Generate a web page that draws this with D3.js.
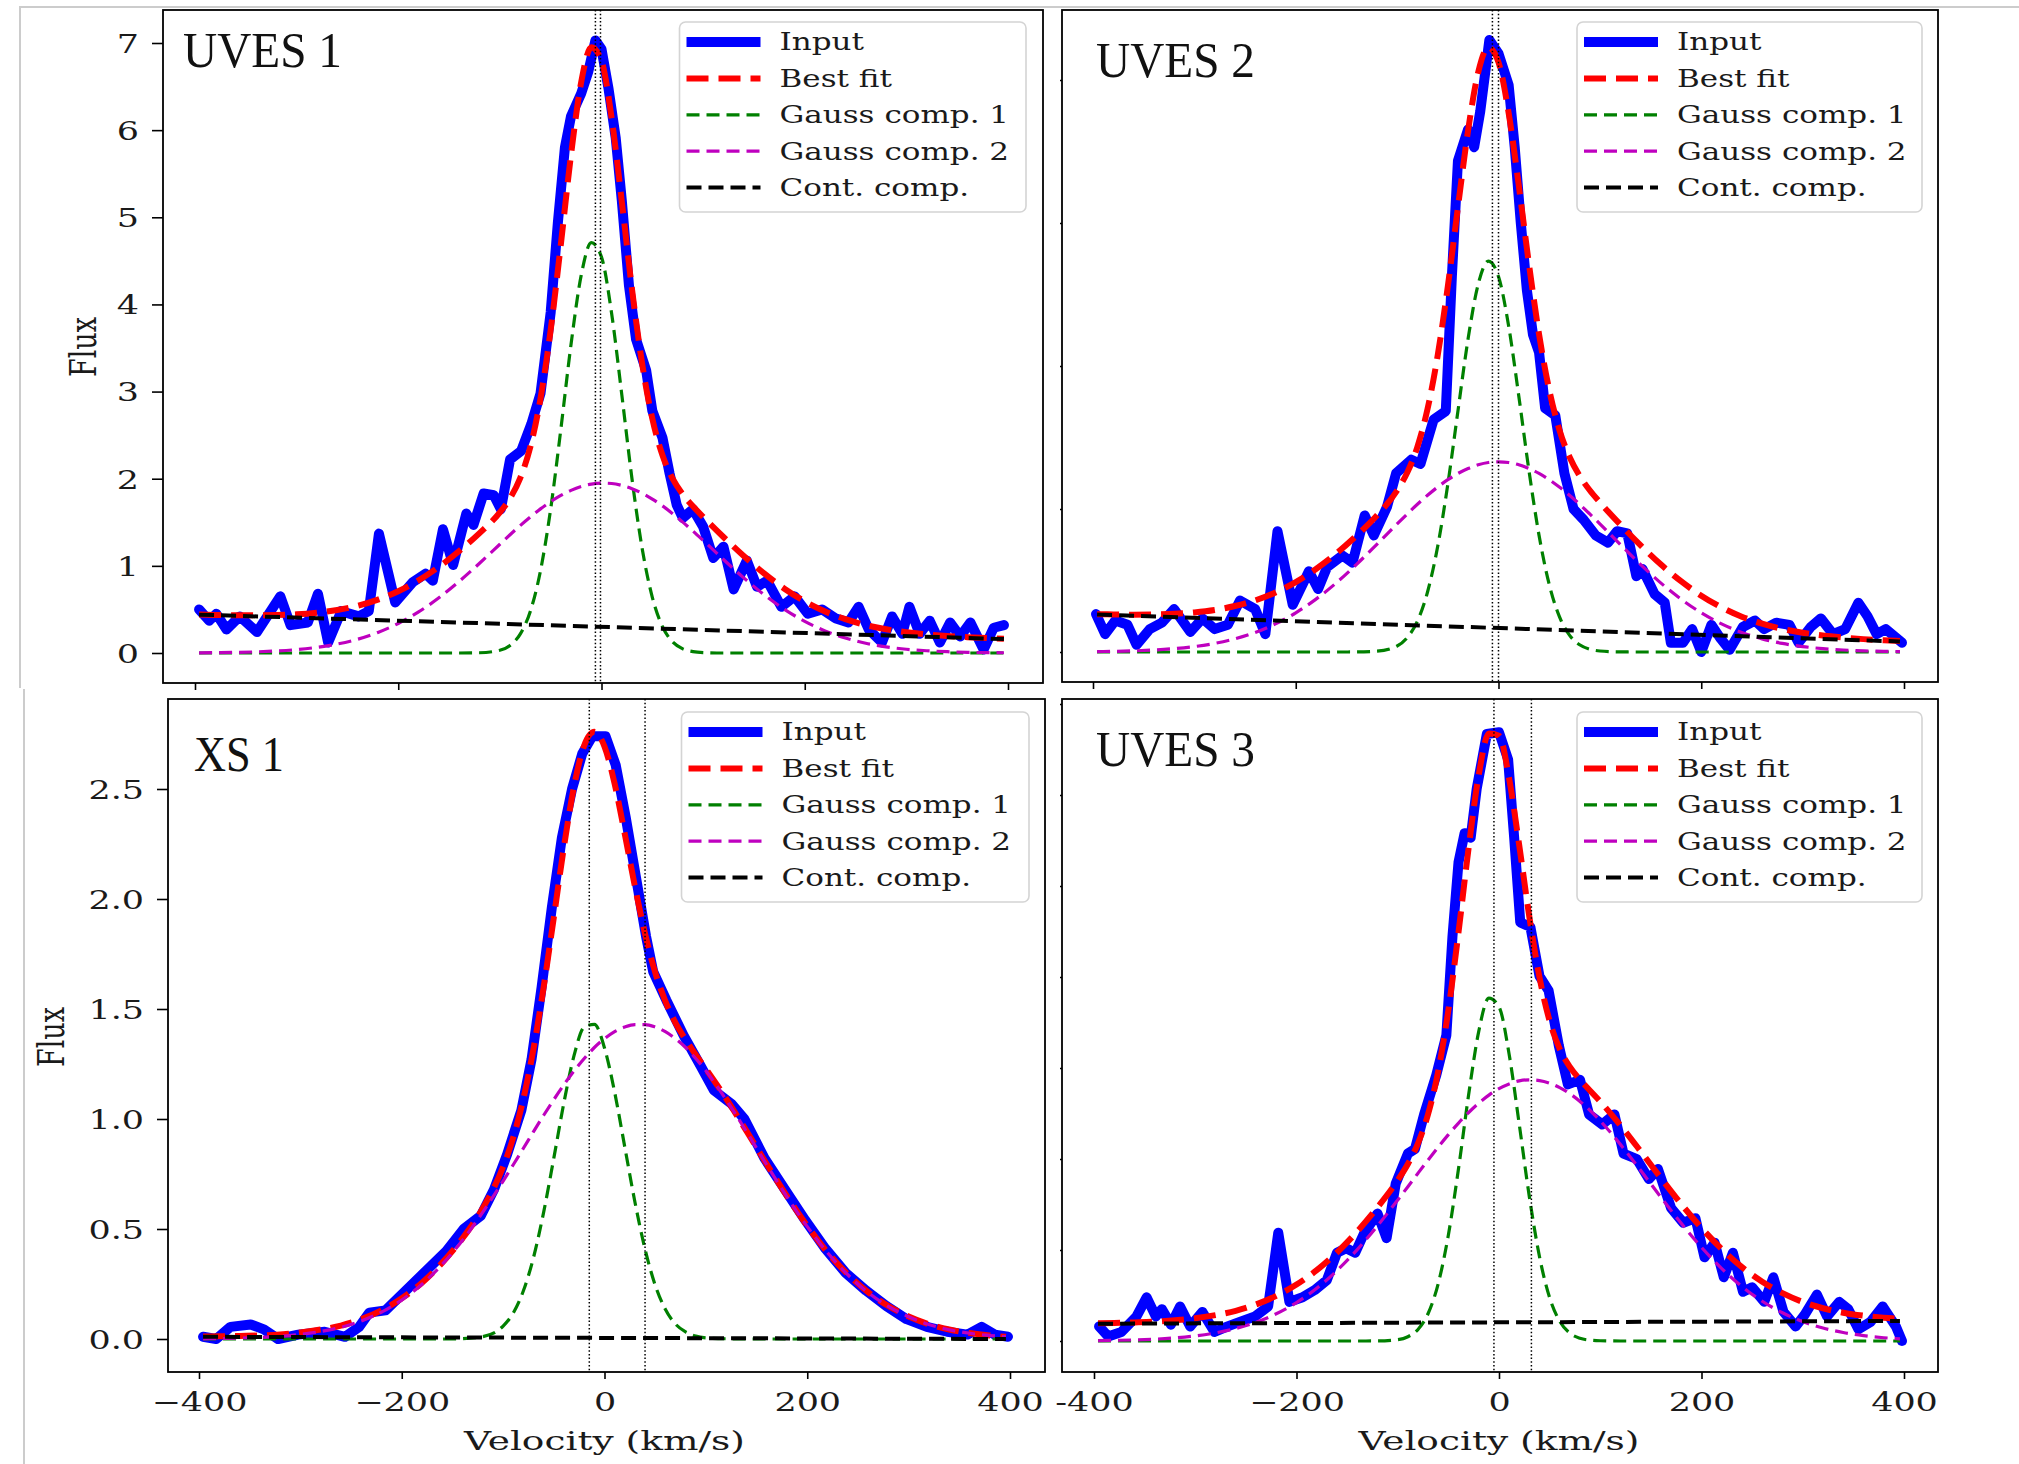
<!DOCTYPE html>
<html>
<head>
<meta charset="utf-8">
<script src="https://cdn.jsdelivr.net/npm/d3@7"></script>
<style>
  html, body { margin: 0; padding: 0; background: #ffffff; }
  svg { display: block; }
</style>
</head>
<body>
<svg id="fig" width="2019" height="1464"></svg>
<script>
// ---------- shared axes values ----------
const velocityGrid = [-396,-380,-360,-340,-320,-300,-280,-260,-240,-220,-200,-180,-160,-140,-120,-100,
  -90,-80,-70,-60,-50,-40,-30,-20,-10,0,10,20,30,40,50,60,70,80,90,
  100,120,140,160,180,200,220,240,260,280,300,320,340,360,380,396];
const contVelocity = [-396, 396];
const velocityTicks = [-400, -200, 0, 200, 400];
const xsVelocityLabels = ["\u2212400", "\u2212200", "0", "200", "400"];
const uves3VelocityLabels = ["-400", "\u2212200", "0", "200", "400"];
const uves1FluxTicks = [0, 1, 2, 3, 4, 5, 6, 7];
const uves2FluxTicks = [0, 2, 4, 6, 8];
const xs1FluxTicks = [0, 0.5, 1, 1.5, 2, 2.5];
const uves3FluxTicks = [0, 1, 2, 3, 4, 5, 6, 7];
const legendLabels = ["Input", "Best fit", "Gauss comp. 1", "Gauss comp. 2", "Cont. comp."];
const panelTitles = ["UVES 1", "UVES 2", "XS 1", "UVES 3"];

// ---------- UVES 1 ----------
const uves1Input = [[-396,0.50],[-386,0.37],[-379,0.45],[-369,0.27],[-356,0.42],[-339,0.24],[-316,0.65],[-306,0.32],
  [-289,0.35],[-279,0.68],[-269,0.12],[-256,0.48],[-239,0.42],[-229,0.48],[-219,1.37],[-203,0.58],[-186,0.81],
  [-173,0.91],[-166,0.83],[-156,1.42],[-146,1.01],[-133,1.60],[-126,1.47],[-116,1.83],[-106,1.81],[-99,1.65],
  [-90,2.22],[-79,2.32],[-69,2.63],[-60,2.98],[-50,3.91],[-43,4.93],[-36,5.80],[-30,6.16],[-20,6.42],[-13,6.67],
  [-6,7.03],[0,6.93],[7,6.47],[14,5.91],[20,5.19],[27,4.22],[34,3.60],[44,3.24],[50,2.78],[60,2.47],[67,2.06],
  [74,1.70],[80,1.55],[90,1.65],[100,1.45],[110,1.09],[120,1.22],[130,0.73],[143,1.06],[153,0.76],[163,0.83],
  [177,0.53],[190,0.65],[203,0.45],[217,0.50],[230,0.40],[243,0.35],[253,0.53],[263,0.27],[276,0.12],[286,0.42],
  [296,0.22],[303,0.53],[313,0.22],[323,0.37],[333,0.12],[343,0.35],[353,0.19],[363,0.35],[376,0.04],[386,0.29],[396,0.32]];
const uves1Fit = [0.441,0.437,0.433,0.432,0.435,0.444,0.463,0.494,0.542,0.613,0.709,0.834,0.989,1.171,1.375,1.614,
  1.776,2.007,2.366,2.921,3.709,4.690,5.717,6.550,6.951,6.794,6.135,5.178,4.176,3.319,2.689,2.269,2.002,1.821,1.684,
  1.562,1.331,1.113,0.913,0.738,0.593,0.477,0.388,0.321,0.273,0.238,0.214,0.196,0.182,0.171,0.164];
const uves1Gauss1 = [0,0,0,0,0,0,0,0,0,0,0,0,0,0,0.003,0.031,
  0.087,0.217,0.480,0.946,1.654,2.568,3.540,4.333,4.709,4.544,3.893,2.962,2.000,1.200,0.639,0.302,0.127,0.047,0.016,
  0.005,0,0,0,0,0,0,0,0,0,0,0,0,0,0,0];
const uves1Gauss2 = [0.002,0.004,0.007,0.013,0.023,0.039,0.065,0.103,0.158,0.236,0.339,0.471,0.633,0.822,1.030,1.248,
  1.357,1.462,1.561,1.654,1.737,1.808,1.866,1.910,1.938,1.950,1.945,1.923,1.886,1.833,1.767,1.688,1.599,1.502,1.399,
  1.292,1.073,0.862,0.669,0.501,0.363,0.254,0.172,0.112,0.071,0.043,0.026,0.015,0.008,0.004,0.003];
const uves1Cont = [0.44, 0.16];
const uves1Centers = [-6, -1];

// ---------- UVES 2 ----------
const uves2Input = [[-397,0.53],[-388,0.25],[-378,0.44],[-366,0.38],[-357,0.10],[-344,0.32],[-332,0.41],[-320,0.60],
  [-304,0.28],[-292,0.47],[-280,0.32],[-267,0.38],[-255,0.72],[-240,0.60],[-230,0.25],[-218,1.69],[-203,0.66],
  [-187,1.13],[-178,0.88],[-169,1.19],[-154,1.35],[-144,1.25],[-132,1.91],[-123,1.63],[-110,2.03],[-101,2.50],
  [-86,2.69],[-77,2.63],[-64,3.25],[-52,3.37],[-46,5.25],[-40,6.87],[-30,7.31],[-24,7.06],[-18,7.56],[-9,8.56],
  [0,8.37],[10,7.93],[16,7.06],[22,6.00],[28,5.06],[34,4.44],[40,4.19],[46,3.41],[56,3.31],[65,2.50],[74,2.00],
  [84,1.85],[96,1.63],[108,1.53],[117,1.69],[127,1.66],[136,1.06],[142,1.16],[154,0.81],[164,0.69],[170,0.13],
  [182,0.13],[191,0.32],[200,0.00],[210,0.38],[219,0.19],[228,0.03],[241,0.35],[253,0.44],[262,0.32],[274,0.41],
  [287,0.38],[296,0.13],[308,0.35],[318,0.47],[330,0.25],[342,0.32],[355,0.69],[364,0.50],[373,0.25],[382,0.32],[398,0.13]];
const uves2Fit = [0.529,0.525,0.522,0.525,0.534,0.554,0.588,0.643,0.722,0.833,0.978,1.161,1.378,1.629,1.909,2.259,
  2.510,2.870,3.399,4.146,5.114,6.222,7.296,8.109,8.457,8.246,7.540,6.525,5.430,4.444,3.668,3.111,2.730,2.464,2.262,
  2.094,1.785,1.495,1.226,0.990,0.788,0.624,0.494,0.396,0.322,0.269,0.230,0.202,0.180,0.164,0.154];
const uves2Gauss1 = [0,0,0,0,0,0,0,0,0,0,0,0,0,0.001,0.011,0.084,
  0.201,0.431,0.839,1.475,2.345,3.371,4.380,5.146,5.467,5.251,4.560,3.581,2.542,1.631,0.947,0.497,0.236,0.101,0.039,
  0.014,0.001,0,0,0,0,0,0,0,0,0,0,0,0,0,0];
const uves2Gauss2 = [0.006,0.009,0.016,0.028,0.047,0.076,0.120,0.184,0.273,0.393,0.548,0.740,0.967,1.226,1.506,1.792,
  1.931,2.066,2.192,2.307,2.410,2.497,2.567,2.618,2.650,2.660,2.650,2.618,2.567,2.497,2.410,2.307,2.192,2.066,1.931,
  1.792,1.506,1.226,0.967,0.740,0.548,0.393,0.273,0.184,0.120,0.076,0.047,0.028,0.016,0.009,0.006];
const uves2Cont = [0.523, 0.147];
const uves2Centers = [-6, 0];

// ---------- XS 1 ----------
const xs1Input = [[-396,0.01],[-383,0.0],[-369,0.055],[-349,0.066],[-336,0.044],[-322,0.0],[-302,0.02],[-276,0.033],
  [-256,0.01],[-242,0.055],[-232,0.12],[-216,0.13],[-196,0.22],[-176,0.31],[-156,0.40],[-139,0.50],[-122,0.56],
  [-109,0.68],[-96,0.84],[-82,1.04],[-72,1.27],[-62,1.60],[-52,1.96],[-42,2.28],[-32,2.50],[-22,2.66],[-12,2.74],
  [1,2.74],[11,2.61],[21,2.37],[31,2.10],[41,1.83],[48,1.67],[61,1.54],[78,1.38],[95,1.24],[108,1.13],[125,1.07],
  [138,1.00],[158,0.82],[178,0.68],[198,0.54],[218,0.41],[238,0.30],[258,0.22],[278,0.15],[298,0.09],[318,0.055],
  [338,0.033],[358,0.02],[372,0.055],[385,0.02],[398,0.01]];
const xs1Fit = [0.011,0.012,0.014,0.016,0.021,0.030,0.043,0.061,0.090,0.130,0.185,0.256,0.347,0.458,0.595,0.783,
  0.916,1.092,1.320,1.600,1.916,2.237,2.513,2.698,2.760,2.693,2.524,2.296,2.057,1.842,1.667,1.536,1.437,1.361,1.292,
  1.228,1.093,0.946,0.795,0.649,0.514,0.394,0.294,0.213,0.150,0.102,0.067,0.043,0.027,0.016,0.010];
const xs1Gauss1 = [0,0,0,0,0,0,0,0,0,0,0,0,0,0.002,0.011,0.059,
  0.118,0.219,0.371,0.577,0.822,1.075,1.289,1.418,1.430,1.323,1.122,0.873,0.623,0.408,0.245,0.135,0.068,0.032,0.013,
  0.005,0.001,0,0,0,0,0,0,0,0,0,0,0,0,0,0];
const xs1Gauss2 = [0.001,0.002,0.004,0.007,0.012,0.021,0.034,0.053,0.082,0.122,0.177,0.249,0.340,0.449,0.577,0.718,
  0.792,0.867,0.943,1.017,1.088,1.156,1.219,1.275,1.325,1.365,1.397,1.418,1.429,1.429,1.418,1.397,1.365,1.325,1.275,
  1.219,1.088,0.943,0.792,0.646,0.511,0.392,0.292,0.211,0.148,0.101,0.066,0.042,0.026,0.016,0.010];
const xs1Cont = [0.010, 0.0];
const xs1Centers = [-15, 40];

// ---------- UVES 3 ----------
const uves3Input = [[-395,0.16],[-386,0.05],[-373,0.10],[-358,0.27],[-348,0.48],[-339,0.27],[-333,0.35],[-324,0.18],
  [-315,0.38],[-305,0.16],[-293,0.32],[-281,0.10],[-268,0.16],[-256,0.21],[-241,0.27],[-228,0.38],[-218,1.19],
  [-207,0.43],[-194,0.48],[-182,0.56],[-170,0.67],[-160,0.97],[-151,1.02],[-142,0.97],[-133,1.19],[-120,1.40],
  [-111,1.13],[-102,1.73],[-90,2.06],[-83,2.11],[-74,2.49],[-62,2.92],[-52,3.36],[-46,4.44],[-40,5.26],[-34,5.58],
  [-28,5.53],[-22,6.07],[-12,6.67],[0,6.69],[9,6.39],[15,5.53],[21,4.60],[31,4.55],[40,4.01],[49,3.85],[59,3.25],
  [68,2.82],[80,2.87],[89,2.49],[102,2.38],[114,2.49],[123,2.06],[136,2.00],[148,1.78],[157,1.89],[170,1.46],
  [182,1.30],[194,1.35],[203,0.92],[213,1.08],[222,0.70],[231,0.97],[241,0.54],[250,0.59],[262,0.43],[271,0.70],
  [281,0.32],[293,0.16],[302,0.29],[314,0.51],[324,0.27],[336,0.43],[345,0.35],[355,0.13],[367,0.21],[379,0.38],
  [392,0.16],[398,0.00]];
const uves3Fit = [0.194,0.198,0.204,0.212,0.227,0.250,0.284,0.332,0.401,0.496,0.620,0.778,0.973,1.204,1.468,1.766,
  1.945,2.173,2.494,2.967,3.636,4.491,5.420,6.221,6.675,6.651,6.182,5.445,4.659,3.995,3.517,3.207,3.012,2.871,2.750,
  2.631,2.369,2.083,1.790,1.505,1.242,1.009,0.812,0.652,0.526,0.429,0.360,0.311,0.278,0.255,0.244];
const uves3Gauss1 = [0,0,0,0,0,0,0,0,0,0,0,0,0,0,0.001,0.015,
  0.047,0.127,0.302,0.632,1.165,1.892,2.705,3.403,3.768,3.673,3.152,2.381,1.583,0.926,0.477,0.216,0.086,0.030,0.009,
  0.003,0,0,0,0,0,0,0,0,0,0,0,0,0,0,0];
const uves3Gauss2 = [0.004,0.007,0.012,0.020,0.034,0.056,0.089,0.137,0.205,0.299,0.422,0.580,0.774,1.004,1.266,1.550,
  1.696,1.844,1.990,2.132,2.268,2.395,2.511,2.614,2.702,2.773,2.825,2.858,2.870,2.862,2.833,2.784,2.718,2.633,2.533,
  2.419,2.159,1.873,1.579,1.293,1.029,0.796,0.598,0.437,0.310,0.213,0.143,0.093,0.059,0.036,0.024];
const uves3Cont = [0.19, 0.22];
const uves3Centers = [-5, 32];

// ---------- layout of the four panels ----------
const panels = [
  { title: panelTitles[0], input: uves1Input, fit: uves1Fit, g1: uves1Gauss1, g2: uves1Gauss2, cont: uves1Cont, centers: uves1Centers,
    box: {l: 163, r: 1043, t: 10, b: 683}, xPix: [195, 1008], yDom: [0, 7], yPix: [653, 43],
    yTicks: uves1FluxTicks, yFormat: d3.format("d"), yTickLen: 11, xLabels: null,
    titleAt: [183, 67], titleWidth: 159, legendAt: [679.5, 22], legendSize: [346.5, 190], fluxLabelAt: [96, 347] },
  { title: panelTitles[1], input: uves2Input, fit: uves2Fit, g1: uves2Gauss1, g2: uves2Gauss2, cont: uves2Cont, centers: uves2Centers,
    box: {l: 1062, r: 1938, t: 10, b: 682}, xPix: [1093, 1904], yDom: [0, 8], yPix: [652, 80],
    yTicks: uves2FluxTicks, yFormat: null, yTickLen: 2, xLabels: null,
    titleAt: [1096, 77], titleWidth: 159, legendAt: [1577, 22], legendSize: [345, 190], fluxLabelAt: null },
  { title: panelTitles[2], input: xs1Input, fit: xs1Fit, g1: xs1Gauss1, g2: xs1Gauss2, cont: xs1Cont, centers: xs1Centers,
    box: {l: 168, r: 1045, t: 699, b: 1372}, xPix: [199, 1010], yDom: [0, 2.5], yPix: [1339, 789],
    yTicks: xs1FluxTicks, yFormat: d3.format(".1f"), yTickLen: 11, xLabels: xsVelocityLabels,
    titleAt: [194, 771], titleWidth: 90, legendAt: [681.5, 712], legendSize: [347.5, 190], fluxLabelAt: [63.5, 1037] },
  { title: panelTitles[3], input: uves3Input, fit: uves3Fit, g1: uves3Gauss1, g2: uves3Gauss2, cont: uves3Cont, centers: uves3Centers,
    box: {l: 1062, r: 1938, t: 699, b: 1372}, xPix: [1094, 1904], yDom: [0, 7], yPix: [1341, 704],
    yTicks: uves3FluxTicks, yFormat: null, yTickLen: 2, xLabels: uves3VelocityLabels,
    titleAt: [1096, 766], titleWidth: 159, legendAt: [1577, 712], legendSize: [345, 190], fluxLabelAt: null }
];

const seriesStyle = {
  input: {stroke: "#0000ff", width: 10, dash: null},
  fit:   {stroke: "#ff0000", width: 6, dash: "22,10"},
  g1:    {stroke: "#008000", width: 3.2, dash: "13,7"},
  g2:    {stroke: "#bf00bf", width: 3.2, dash: "13,7"},
  cont:  {stroke: "#000000", width: 4, dash: "15,7"}
};
const legendKeys = ["input", "fit", "g1", "g2", "cont"];

const serif = "'DejaVu Serif', serif";
const textStretch = 1.37;      // glyphs are drawn wider than tall
const svg = d3.select("#fig");

// light frame around the two halves of the figure
svg.append("path").attr("d", "M20,688 V7 H2019")
  .attr("fill", "none").attr("stroke", "#cccccc").attr("stroke-width", 2);
svg.append("path").attr("d", "M24,689 V1464")
  .attr("fill", "none").attr("stroke", "#cccccc").attr("stroke-width", 2);

function styled(sel, st) {
  sel.attr("fill", "none").attr("stroke", st.stroke).attr("stroke-width", st.width);
  if (st.dash) sel.attr("stroke-dasharray", st.dash).attr("stroke-linecap", "butt");
  else sel.attr("stroke-linejoin", "round").attr("stroke-linecap", "round");
  return sel;
}

// stretch a text element horizontally so that it spans the given width
function fitWidth(sel, width) {
  const natural = sel.node().getComputedTextLength();
  return natural > 0 ? width / natural : 1;
}

panels.forEach((p, i) => {
  const g = svg.append("g");
  const x = d3.scaleLinear().domain([-400, 400]).range(p.xPix);
  const y = d3.scaleLinear().domain(p.yDom).range(p.yPix);
  const bw = p.box.r - p.box.l, bh = p.box.b - p.box.t;

  const clipId = "plot-clip-" + i;
  svg.append("clipPath").attr("id", clipId)
    .append("rect").attr("x", p.box.l).attr("y", p.box.t).attr("width", bw).attr("height", bh);
  const plot = g.append("g").attr("clip-path", `url(#${clipId})`);

  // measured spectrum
  plot.append("path").datum(p.input)
    .attr("d", d3.line().x(d => x(d[0])).y(d => y(d[1])))
    .call(styled, seriesStyle.input);

  // model curves on the common velocity grid
  const model = d3.line().x((d, j) => x(velocityGrid[j])).y(d => y(d)).curve(d3.curveMonotoneX);
  plot.append("path").datum(p.fit).attr("d", model).call(styled, seriesStyle.fit);
  plot.append("path").datum(p.g1).attr("d", model).call(styled, seriesStyle.g1);
  plot.append("path").datum(p.g2).attr("d", model).call(styled, seriesStyle.g2);
  plot.append("path").datum(p.cont)
    .attr("d", d3.line().x((d, j) => x(contVelocity[j])).y(d => y(d)))
    .call(styled, seriesStyle.cont);

  // component centres
  plot.selectAll("line.center").data(p.centers).join("line")
    .attr("class", "center")
    .attr("x1", d => x(d)).attr("x2", d => x(d))
    .attr("y1", p.box.t).attr("y2", p.box.b)
    .attr("stroke", "#000").attr("stroke-width", 1.5).attr("stroke-dasharray", "1.5,2.2");

  // axes
  const yAxis = d3.axisLeft(y).tickValues(p.yTicks).tickSize(p.yTickLen).tickPadding(0)
    .tickFormat(p.yFormat ? p.yFormat : () => "");
  const ya = g.append("g").attr("transform", `translate(${p.box.l},0)`).call(yAxis);
  const xAxis = d3.axisBottom(x).tickValues(velocityTicks).tickSize(7).tickPadding(0)
    .tickFormat(p.xLabels ? (d, k) => p.xLabels[k] : () => "");
  const xa = g.append("g").attr("transform", `translate(0,${p.box.b})`).call(xAxis);

  [ya, xa].forEach(a => {
    a.select(".domain").remove();
    a.attr("font-family", serif).attr("font-size", 25.5);
    a.selectAll(".tick line").attr("stroke", "#000").attr("stroke-width", 1.6);
    a.selectAll(".tick text").attr("fill", "#1a1a1a").attr("dy", null).attr("x", null).attr("y", null);
  });
  ya.selectAll(".tick text")
    .attr("text-anchor", "end")
    .attr("transform", `translate(${-(p.yTickLen + 13)},9.3) scale(${textStretch},1)`);
  xa.selectAll(".tick text")
    .attr("text-anchor", "middle")
    .attr("transform", `translate(0,39) scale(${textStretch},1)`);

  // frame
  g.append("rect").attr("x", p.box.l).attr("y", p.box.t).attr("width", bw).attr("height", bh)
    .attr("fill", "none").attr("stroke", "#000").attr("stroke-width", 1.8);

  // axis titles
  if (p.xLabels) {
    const vl = g.append("text").text("Velocity (km/s)")
      .attr("font-family", serif).attr("font-size", 26).attr("fill", "#1a1a1a")
      .attr("text-anchor", "middle");
    const s = fitWidth(vl, 281);
    vl.attr("transform", `translate(${x(0)},1450) scale(${s},1)`);
  }
  if (p.fluxLabelAt) {
    g.append("text").text("Flux")
      .attr("font-family", serif).attr("font-size", 27).attr("fill", "#1a1a1a")
      .attr("text-anchor", "middle")
      .attr("transform", `translate(${p.fluxLabelAt[0]},${p.fluxLabelAt[1]}) scale(${textStretch},1) rotate(-90)`);
  }

  // panel name
  const tt = g.append("text").text(p.title)
    .attr("font-family", "'Liberation Serif', 'Times New Roman', serif")
    .attr("font-size", 50).attr("fill", "#111");
  const ts = fitWidth(tt, p.titleWidth);
  tt.attr("transform", `translate(${p.titleAt[0]},${p.titleAt[1]}) scale(${ts},1)`);

  // legend
  const lg = g.append("g").attr("transform", `translate(${p.legendAt[0]},${p.legendAt[1]})`);
  lg.append("rect").attr("width", p.legendSize[0]).attr("height", p.legendSize[1])
    .attr("rx", 6).attr("fill", "#fff").attr("fill-opacity", 0.85)
    .attr("stroke", "#d4d4d4").attr("stroke-width", 1.6);
  legendLabels.forEach((lab, k) => {
    const ry = 20 + k * 36.4;
    lg.append("line").attr("x1", 7).attr("x2", 81).attr("y1", ry).attr("y2", ry)
      .call(styled, seriesStyle[legendKeys[k]]).attr("stroke-linecap", "butt");
    lg.append("text").text(lab)
      .attr("font-family", serif).attr("font-size", 23.5).attr("fill", "#1a1a1a")
      .attr("transform", `translate(100,${ry + 8.3}) scale(1.32,1)`);
  });
});
</script>
</body>
</html>
